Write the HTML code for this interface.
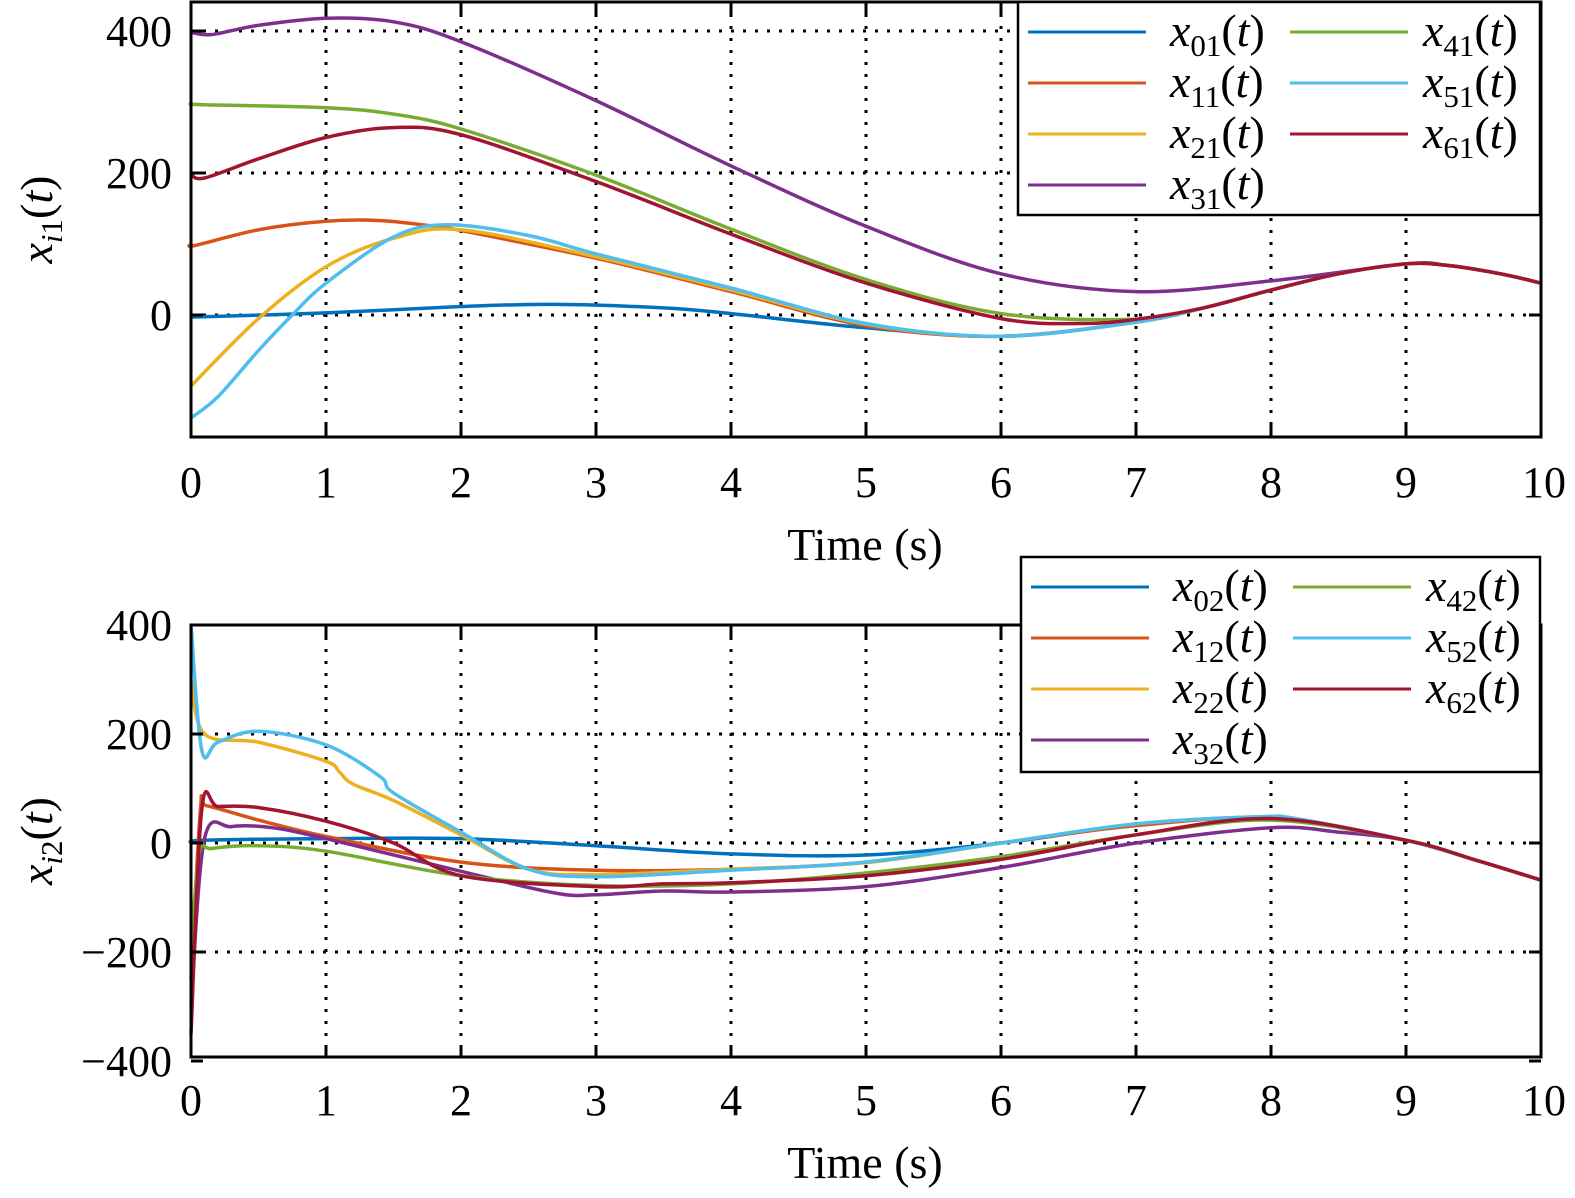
<!DOCTYPE html>
<html><head><meta charset="utf-8">
<style>
html,body{margin:0;padding:0;background:#fff;overflow:hidden;width:1575px;height:1198px;}
svg{display:block;}
text{font-family:"Liberation Serif","Times New Roman",serif;}
</style></head>
<body>
<svg id="s" width="1575" height="1198" viewBox="0 0 1575 1198" xmlns="http://www.w3.org/2000/svg" font-family="Liberation Serif, serif">
<g id="g"></g>
</svg>
<script>
const NS="http://www.w3.org/2000/svg";
const g=document.getElementById('g');
function el(t,a,txt){const e=document.createElementNS(NS,t);for(const k in a)e.setAttribute(k,a[k]);if(t==='text')e.setAttribute('font-family','Liberation Serif, serif');if(txt!==undefined)e.textContent=txt;g.appendChild(e);return e;}
const C={b:"#0072BD",o:"#D95319",y:"#EDB120",p:"#7E2F8E",g:"#77AC30",c:"#4DBEEE",r:"#A2142F"};
const X=t=>191+135*t;
function path(pts,fy,col){
  const P=pts.map(p=>[X(p[0]),fy(p[1])]);
  let d="M"+P[0][0]+","+P[0][1];
  for(let i=0;i<P.length-1;i++){
    const p0=P[Math.max(0,i-1)],p1=P[i],p2=P[i+1],p3=P[Math.min(P.length-1,i+2)];
    const c1=[p1[0]+(p2[0]-p0[0])/6,p1[1]+(p2[1]-p0[1])/6];
    const c2=[p2[0]-(p3[0]-p1[0])/6,p2[1]-(p3[1]-p1[1])/6];
    d+=` C${c1[0].toFixed(1)},${c1[1].toFixed(1)} ${c2[0].toFixed(1)},${c2[1].toFixed(1)} ${p2[0].toFixed(1)},${p2[1].toFixed(1)}`;
  }
  el('path',{d,fill:"none",stroke:col,"stroke-width":3.5,"stroke-linejoin":"round"});
}
function axes(top,bot,yt,fy){
  for(let i=1;i<10;i++) el('line',{x1:X(i),x2:X(i),y1:top,y2:bot,stroke:"#000","stroke-width":3,"stroke-dasharray":"3 9"});
  yt.forEach(v=>{const y=fy(v); if(y>top+3&&y<bot-3) el('line',{x1:191,x2:1541,y1:y,y2:y,stroke:"#000","stroke-width":3,"stroke-dasharray":"3 9"});});
}
function frame(top,bot,yt,fy,xlY,timeY,sub){
  el('rect',{x:191,y:top,width:1350,height:bot-top,fill:"none",stroke:"#000","stroke-width":3});
  for(let i=0;i<=10;i++){
    el('line',{x1:X(i),x2:X(i),y1:bot,y2:bot-12,stroke:"#000","stroke-width":3});
    el('line',{x1:X(i),x2:X(i),y1:top,y2:top+12,stroke:"#000","stroke-width":3});
    el('text',{x:X(i)+(i==10?3:0),y:xlY,"font-size":44,"text-anchor":"middle"},String(i));
  }
  yt.forEach(v=>{const y=fy(v);
    el('line',{x1:191,x2:203,y1:y,y2:y,stroke:"#000","stroke-width":3});
    el('line',{x1:1541,x2:1529,y1:y,y2:y,stroke:"#000","stroke-width":3});
    el('text',{x:172,y:y+15,"font-size":44,"text-anchor":"end"},v<0?"\u2212"+(-v):String(v));
  });
  el('text',{x:865,y:timeY,"font-size":46,"text-anchor":"middle"},"Time (s)");
  const t=el('text',{transform:`translate(52,${(top+bot)/2}) rotate(-90)`,"font-size":46,"text-anchor":"middle"});
  t.innerHTML=`<tspan font-style="italic">x</tspan><tspan font-size="31" dy="10" font-style="italic">i</tspan><tspan font-size="31">${sub}</tspan><tspan dy="-10">(</tspan><tspan font-style="italic">t</tspan>)`;
}
function legend(x0,y0,w,h,rows){
  el('rect',{x:x0,y:y0,width:w,height:h,fill:"#fff",stroke:"#000","stroke-width":2.5});
  rows.forEach((r,k)=>{
    const col=k<4?0:1, row=k<4?k:k-4;
    const y=y0+30+row*51;
    const lx=col?x0+272:x0+10, tx=col?x0+405:x0+152;
    el('line',{x1:lx,x2:lx+118,y1:y,y2:y,stroke:r[1],"stroke-width":3});
    const t=el('text',{x:tx,y:y+14,"font-size":46});
    t.innerHTML=`<tspan font-style="italic">x</tspan><tspan font-size="31" dy="10">${r[0]}</tspan><tspan dy="-10">(</tspan><tspan font-style="italic">t</tspan>)`;
  });
}
// TOP
const fy1=v=>315-v*0.71;
axes(2,437,[400,200,0],fy1);
const tail1=[[7.5,10],[8,35],[8.5,58],[9,72],[9.3,70],[9.7,58],[10,45]];
path([[0,-3],[1,3],[2,12],[2.7,15],[3.5,10],[4,2],[5,-18],[6,-30],[7,-10]].concat(tail1),fy1,C.b);
path([[0,100],[0.03,98],[0.5,120],[1,132],[1.4,133],[1.8,125],[2,119],[3,80],[4,33],[5,-15],[6,-30],[7,-10]].concat(tail1),fy1,C.o);
path([[0,-100],[0.5,-5],[1,68],[1.5,108],[2,120],[3,82],[4,35],[5,-13],[6,-30],[7,-10]].concat(tail1),fy1,C.y);
path([[0,398],[0.15,395],[0.5,408],[1,418],[1.5,413],[2,385],[3,302],[4,210],[5,125],[6,58],[7,33],[8,48],[9,72],[9.3,70],[9.7,58],[10,45]],fy1,C.p);
path([[0,298],[0.1,296],[1,292],[1.5,283],[2,262],[3,197],[4,121],[5,50],[6,2],[7,-6]].concat(tail1),fy1,C.g);
path([[0,-145],[0.2,-115],[0.5,-50],[0.75,0],[1,45],[1.5,110],[1.9,127],[2.5,112],[3,86],[4,38],[5,-12],[6,-30],[7,-10]].concat(tail1),fy1,C.c);
path([[0,198],[0.1,193],[0.5,220],[1,250],[1.5,264],[2,254],[3,188],[4,114],[5,45],[6,-5],[6.6,-12],[7,-6]].concat(tail1),fy1,C.r);
frame(2,437,[400,200,0],fy1,497,560,"1");
legend(1018,2,522,213,[["01",C.b],["11",C.o],["21",C.y],["31",C.p],["41",C.g],["51",C.c],["61",C.r]]);
// BOTTOM
const fy2=v=>843-v*0.545;
axes(625,1057,[400,200,0,-200,-400],fy2);
const tail2=[[9,5],[9.5,-30],[10,-68]];
path([[0,0],[0.1,5],[1,8],[2,8],[3,-5],[4,-20],[5,-22],[6,0],[7,33],[8,45]].concat(tail2),fy2,C.b);
path([[0,-250],[0.07,60],[0.12,68],[0.5,42],[1,12],[2,-35],[3,-50],[4,-48],[5,-35],[6,0],[7,32],[8,45]].concat(tail2),fy2,C.o);
path([[0,300],[0.1,200],[0.5,185],[1,150],[1.1,130],[1.2,108],[1.5,78],[2,15],[2.5,-48],[3,-58],[4,-48],[5,-36],[6,0],[7,35],[7.9,48],[8.2,44]].concat(tail2),fy2,C.y);
path([[0,-300],[0.1,8],[0.3,30],[0.6,28],[1,8],[2,-52],[2.7,-92],[3,-95],[3.5,-88],[4,-90],[5,-80],[6,-45],[7,0],[8,28],[8.5,20]].concat(tail2),fy2,C.p);
path([[0,-200],[0.06,-20],[0.15,-10],[0.5,-5],[1,-15],[2,-60],[3,-78],[4,-75],[5,-55],[6,-25],[7,15],[8,42]].concat(tail2),fy2,C.g);
path([[0,400],[0.08,170],[0.2,185],[0.5,205],[1,180],[1.4,122],[1.5,92],[2,20],[2.5,-48],[3,-62],[4,-50],[5,-35],[6,0],[7,35],[7.9,48],[8.2,44]].concat(tail2),fy2,C.c);
path([[0,-350],[0.08,62],[0.2,67],[0.5,65],[1,40],[1.5,0],[2,-60],[3,-80],[3.5,-75],[4,-73],[5,-60],[6,-30],[7,15],[8,45]].concat(tail2),fy2,C.r);
frame(625,1057,[400,200,0,-200,-400],fy2,1115,1178,"2");
legend(1021,557,519,215,[["02",C.b],["12",C.o],["22",C.y],["32",C.p],["42",C.g],["52",C.c],["62",C.r]]);
</script>
</body></html>
